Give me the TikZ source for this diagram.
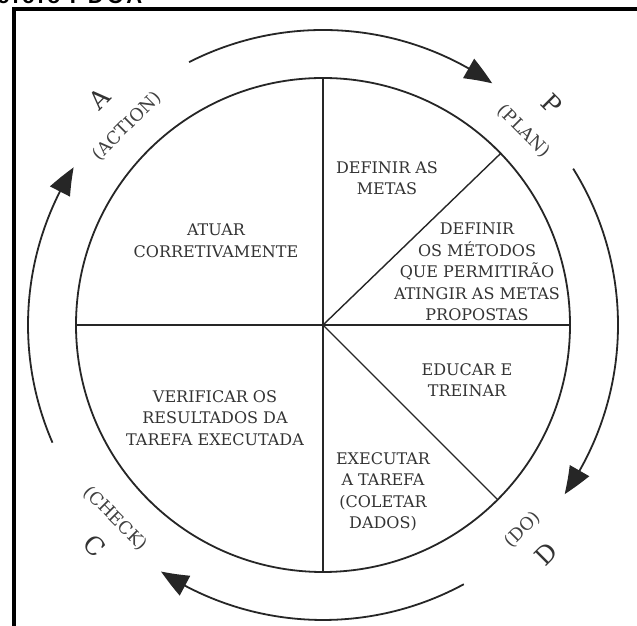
\documentclass[tikz,border=0pt]{standalone}
\usepackage{fontspec}
\setmainfont{DejaVu Serif}
\newfontfamily\lblfont{DejaVu Serif}
\newfontfamily\hdrfont[LetterSpace=15]{Liberation Sans}
\usetikzlibrary{arrows.meta,bending}
\begin{document}
\begin{tikzpicture}[x=1pt,y=1pt,
  divider/.style={draw=black!85, line width=1.4pt},
  body/.style={font=\lblfont\fontsize{16}{21.5}\selectfont, text=black!80, align=center, inner sep=0pt},
  tag/.style={font=\lblfont\fontsize{17.5}{20}\selectfont, text=black!75, inner sep=0pt},
  letter/.style={font=\lblfont\fontsize{25}{25}\selectfont, text=black!80, inner sep=0pt},
  cyc/.style={draw=black!85, line width=1.8pt, -{Triangle[length=28pt,width=22pt,bend]}},
]
\useasboundingbox (0,0) rectangle (637,626);
\fill[white] (0,0) rectangle (637,626);
% cropped header
\node[anchor=base west, inner sep=0pt, font=\hdrfont\bfseries\fontsize{22}{22}\selectfont] (hdr) at (-3,622) {ciclo PDCA};
% frame
\draw[line width=4pt] (14,-20) -- (14,617) -- (660,617);
% wheel
\coordinate (C) at (323,301);
\node[circle, draw=black!85, line width=1.8pt, minimum size=494pt, inner sep=0pt, outer sep=0pt] (wheel) at (C) {};
\draw[divider] (wheel.center) -- (wheel.90);
\draw[divider] (wheel.center) -- (wheel.270);
\draw[divider] (wheel.center) -- (wheel.180);
\draw[divider] (wheel.center) -- (wheel.0);
\draw[divider] (wheel.center) -- (wheel.44);
\draw[divider] (wheel.center) -- (wheel.-45);
% sector texts
\node[body] (metas) at (387,448) {DEFINIR AS\\METAS};
\node[body] (metodos) at (477,354) {DEFINIR\\OS MÉTODOS\\QUE PERMITIRÃO\\ATINGIR AS METAS\\PROPOSTAS};
\node[body] (educar) at (467,246) {EDUCAR E\\TREINAR};
\node[body] (executar) at (383,134) {EXECUTAR\\A TAREFA\\(COLETAR\\DADOS)};
\node[body] (verificar) at (215,208) {VERIFICAR OS\\RESULTADOS DA\\TAREFA EXECUTADA};
\node[body] (atuar) at (216,385) {ATUAR\\CORRETIVAMENTE};
% cycle arrows
\draw[cyc] ([shift={(C)}]117:295pt) arc[start angle=117, end angle=55, radius=295pt];
\draw[cyc] ([shift={(C)}]32:295pt) arc[start angle=32, end angle=-35, radius=295pt];
\draw[cyc] ([shift={(C)}]-61.5:295pt) arc[start angle=-61.5, end angle=-123.3, radius=295pt];
\draw[cyc] ([shift={(C)}]203.5:295pt) arc[start angle=203.5, end angle=147.7, radius=295pt];
% phase labels
\node[letter, rotate=-45] (P) at ([shift={(C)}]44:318pt) {P};
\node[tag, rotate=-45] (plan) at ([shift={(C)}]44:279pt) {(PLAN)};
\node[letter, rotate=45] (A) at ([shift={(C)}]134.6:318pt) {A};
\node[tag, rotate=45] (action) at ([shift={(C)}]134.6:279pt) {(ACTION)};
\node[letter, rotate=-45] (Cl) at ([shift={(C)}]224:318pt) {C};
\node[tag, rotate=-45] (check) at ([shift={(C)}]223:284pt) {(CHECK)};
\node[letter, rotate=45] (D) at ([shift={(C)}]-45.8:320pt) {D};
\node[tag, rotate=45] (do) at ([shift={(C)}]-45.8:286pt) {(DO)};
\end{tikzpicture}
\end{document}
